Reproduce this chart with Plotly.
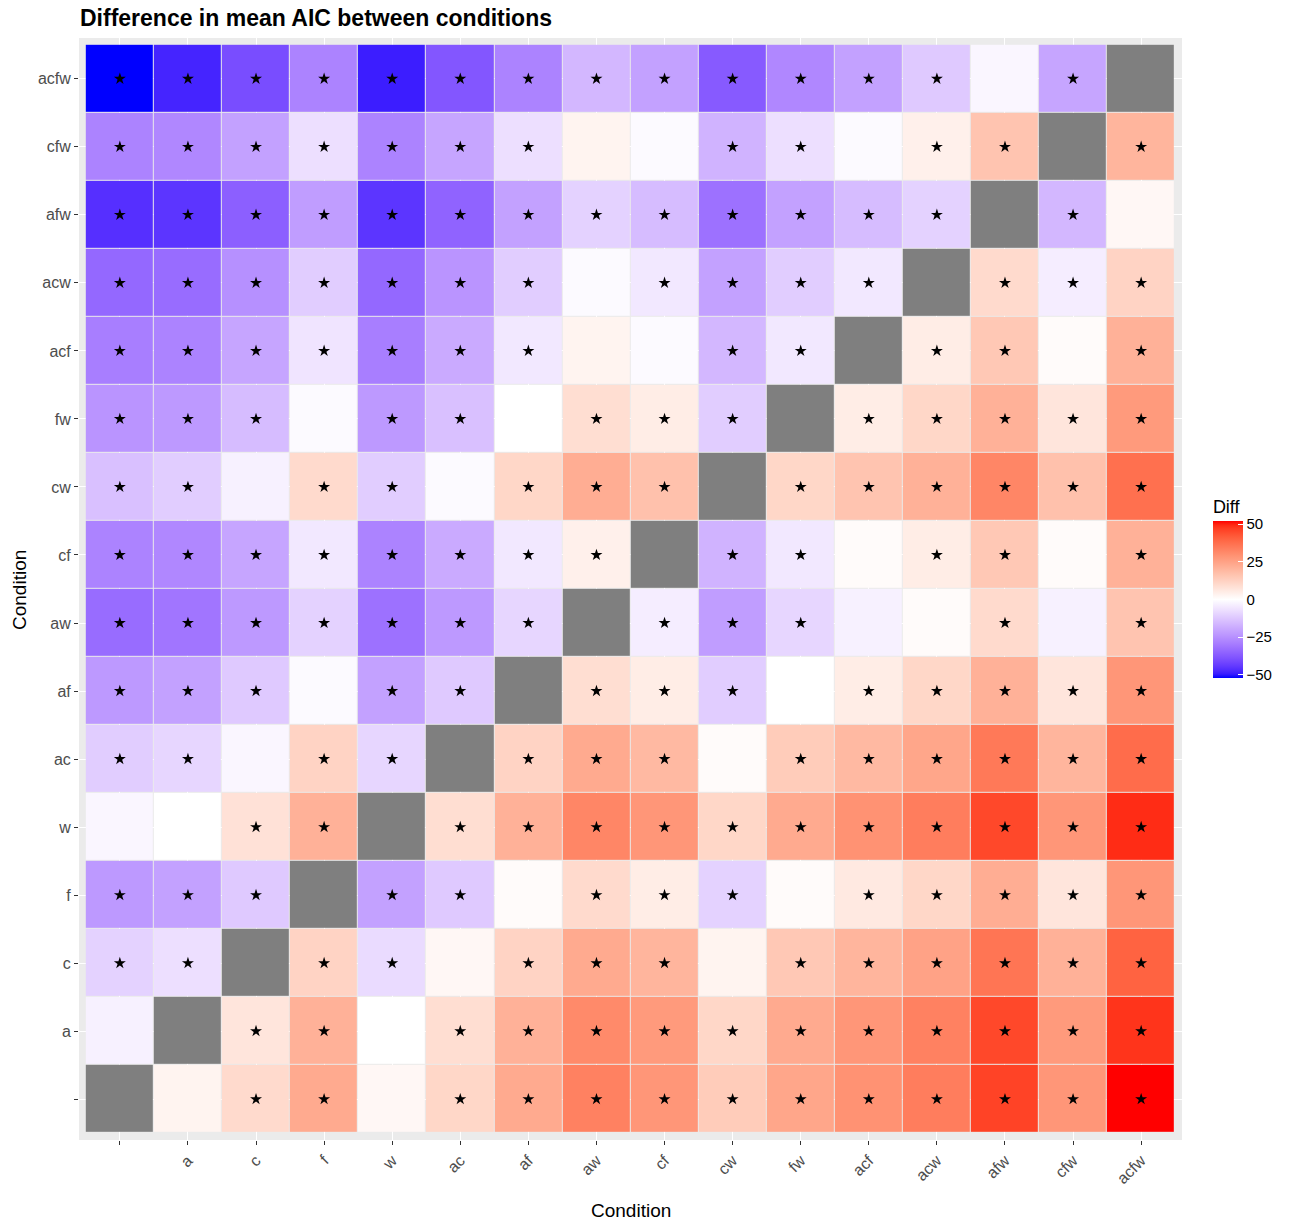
import numpy as np
import plotly.graph_objects as go

# Conditions (order of both axes); the baseline condition has an empty label
conditions = ["", "a", "c", "f", "w", "ac", "af", "aw", "cf", "cw",
              "fw", "acf", "acw", "afw", "cfw", "acfw"]

# Difference in mean AIC; row = y condition, column = x condition
diff = [
    [None,  3,  10,  23,   2,  11,  23,  33,  28,  14,  24,  29,  34,  46,  28,  52],   # baseline
    [-3, None,   7,  21,   0,   9,  21,  31,  27,  11,  23,  28,  33,  45,  27,  48],   # a
    [-10,  -7, None, 12,  -8,   2,  12,  23,  20,   3,  15,  20,  25,  36,  21,  40],   # c
    [-23, -21, -12, None, -21, -12,   1,  10,   5, -10,   1,   6,  11,  22,   7,  28],  # f
    [-2,    0,   8,  21, None,   9,  21,  32,  28,  11,  23,  29,  34,  45,  28,  49],  # w
    [-11,  -9,  -2,  12,  -9, None,  12,  23,  19,   1,  14,  19,  24,  35,  20,  38],  # ac
    [-23, -21, -12,  -1, -21, -12, None,   9,   5, -11,   0,   5,  11,  21,   7,  28],  # af
    [-33, -31, -23, -10, -32, -23,  -9, None,  -4, -22,  -9,  -3,   1,  10,  -3,  16], # aw
    [-28, -27, -20,  -5, -28, -19,  -5,   4, None, -17,  -5,   1,   5,  15,   1,  21], # cf
    [-14, -11,  -3,  10, -11,  -1,  11,  22,  17, None,  11,  16,  21,  32,  17,  37], # cw
    [-24, -23, -15,  -1, -23, -14,   0,   9,   5, -11, None,   5,  11,  21,   7,  27], # fw
    [-29, -28, -20,  -6, -29, -19,  -5,   3,  -1, -16,  -5, None,   5,  15,   1,  21], # acf
    [-34, -33, -25, -11, -34, -24, -11,  -1,  -5, -21, -11,  -5, None,  10,  -4,  12], # acw
    [-46, -45, -36, -22, -45, -35, -21, -10, -15, -32, -21, -15, -10, None, -16,   2], # afw
    [-28, -27, -21,  -7, -28, -20,  -7,   3,  -1, -17,  -7,  -1,   4,  16, None,  20], # cfw
    [-52, -48, -40, -28, -49, -38, -28, -16, -21, -37, -27, -21, -12,  -2, -20, None], # acfw
]

# Pairs (by condition index) whose difference is not significant (no star)
not_significant = [
    (0, 1), (0, 4), (1, 4), (2, 5), (2, 9),
    (3, 6), (3, 10), (5, 9), (6, 10), (7, 11),
    (7, 12), (7, 14), (8, 11), (8, 14),
    (11, 14), (13, 15),
]

colorbar_ticks = [-50, -25, 0, 25, 50]
z_limit = 52


# ---- diverging blue-white-red palette interpolated in CIE Lab ----
_M = np.array([[0.4124564, 0.3575761, 0.1804375],
               [0.2126729, 0.7151522, 0.0721750],
               [0.0193339, 0.1191920, 0.9503041]])
_WHITE = np.array([0.95047, 1.0, 1.08883])


def hex_to_lab(h):
    rgb = np.array([int(h[i:i + 2], 16) for i in (1, 3, 5)]) / 255.0
    lin = np.where(rgb <= 0.04045, rgb / 12.92, ((rgb + 0.055) / 1.055) ** 2.4)
    xyz = _M @ lin / _WHITE
    d = 6 / 29
    f = np.where(xyz > d ** 3, np.cbrt(xyz), xyz / (3 * d * d) + 4 / 29)
    return np.array([116 * f[1] - 16, 500 * (f[0] - f[1]), 200 * (f[1] - f[2])])


def lab_to_rgb(lab):
    L, a, b = lab
    fy = (L + 16) / 116
    f = np.array([fy + a / 500, fy, fy - b / 200])
    d = 6 / 29
    xyz = np.where(f > d, f ** 3, 3 * d * d * (f - 4 / 29)) * _WHITE
    lin = np.clip(np.linalg.solve(_M, xyz), 0, 1)
    srgb = np.where(lin <= 0.0031308, 12.92 * lin, 1.055 * lin ** (1 / 2.4) - 0.055)
    r, g, bb = np.clip(np.round(srgb * 255), 0, 255).astype(int)
    return f"rgb({r},{g},{bb})"


low, mid, high = hex_to_lab("#0000FF"), hex_to_lab("#FFFFFF"), hex_to_lab("#FF0000")
colorscale = []
for s in np.linspace(0, 1, 41):
    if s <= 0.5:
        lab = low + (mid - low) * (s / 0.5)
    else:
        lab = mid + (high - mid) * ((s - 0.5) / 0.5)
    colorscale.append([float(s), lab_to_rgb(lab)])

n = len(conditions)
pos = list(range(n))
ns = set()
for p, q in not_significant:
    ns.add((p, q))
    ns.add((q, p))

# missing (self-comparison) cells drawn in grey
na_mask = [[1 if diff[i][j] is None else None for j in range(n)] for i in range(n)]

star_x, star_y = [], []
for i in range(n):
    for j in range(n):
        if diff[i][j] is not None and (i, j) not in ns:
            star_x.append(j)
            star_y.append(i)

fig = go.Figure()
fig.add_trace(go.Heatmap(
    x=pos, y=pos, z=diff,
    colorscale=colorscale, zmin=-z_limit, zmax=z_limit,
    xgap=1, ygap=1, hoverongaps=False,
    colorbar=dict(
        title=dict(text="Diff", side="top", font=dict(size=18, color="#000000")),
        tickvals=colorbar_ticks, ticks="inside", ticklen=5, tickcolor="white",
        tickwidth=1, tickfont=dict(size=15, color="#000000"),
        thickness=30, len=182, lenmode="pixels", ypad=0,
        x=1.028, xanchor="left", xpad=0, y=(1140 - 587) / 1102, yanchor="middle",
        outlinewidth=0,
    ),
))
fig.add_trace(go.Heatmap(
    x=pos, y=pos, z=na_mask,
    colorscale=[[0, "#7F7F7F"], [1, "#7F7F7F"]], showscale=False,
    xgap=1, ygap=1, hoverinfo="skip",
))
fig.add_trace(go.Scatter(
    x=star_x, y=star_y, mode="markers",
    marker=dict(symbol="star", size=9, color="black", line=dict(width=0)),
    hoverinfo="skip", showlegend=False,
))

axis_common = dict(
    tickmode="array", tickvals=pos, ticktext=conditions,
    range=[-0.6, n - 0.4], showgrid=True, gridcolor="white", gridwidth=1,
    zeroline=False, ticks="outside", ticklen=4, tickcolor="#333333",
    tickwidth=1, tickfont=dict(size=16, color="#4D4D4D"), showline=False,
)
fig.update_xaxes(**axis_common, tickangle=-45)
fig.update_yaxes(**axis_common)

fig.update_layout(
    width=1294, height=1220,
    margin=dict(l=79, r=112, t=38, b=80),
    plot_bgcolor="#EBEBEB", paper_bgcolor="white",
    font=dict(family="Liberation Sans, Arial, sans-serif"),
    title=dict(text="<b>Difference in mean AIC between conditions</b>",
               x=80 / 1294, xanchor="left", y=1 - 18 / 1220, yanchor="middle",
               font=dict(size=23, color="#000000")),
    showlegend=False,
    annotations=[
        dict(text="Condition", xref="paper", yref="paper", x=0.5,
             y=-(1210 - 1140) / 1102, xanchor="center", yanchor="middle",
             showarrow=False, font=dict(size=19, color="#000000")),
        dict(text="Condition", xref="paper", yref="paper",
             x=-(79 - 19) / 1103, y=(1140 - 590) / 1102, textangle=-90,
             xanchor="center", yanchor="middle", showarrow=False,
             font=dict(size=19, color="#000000")),
    ],
)

fig.write_html("out.html")
